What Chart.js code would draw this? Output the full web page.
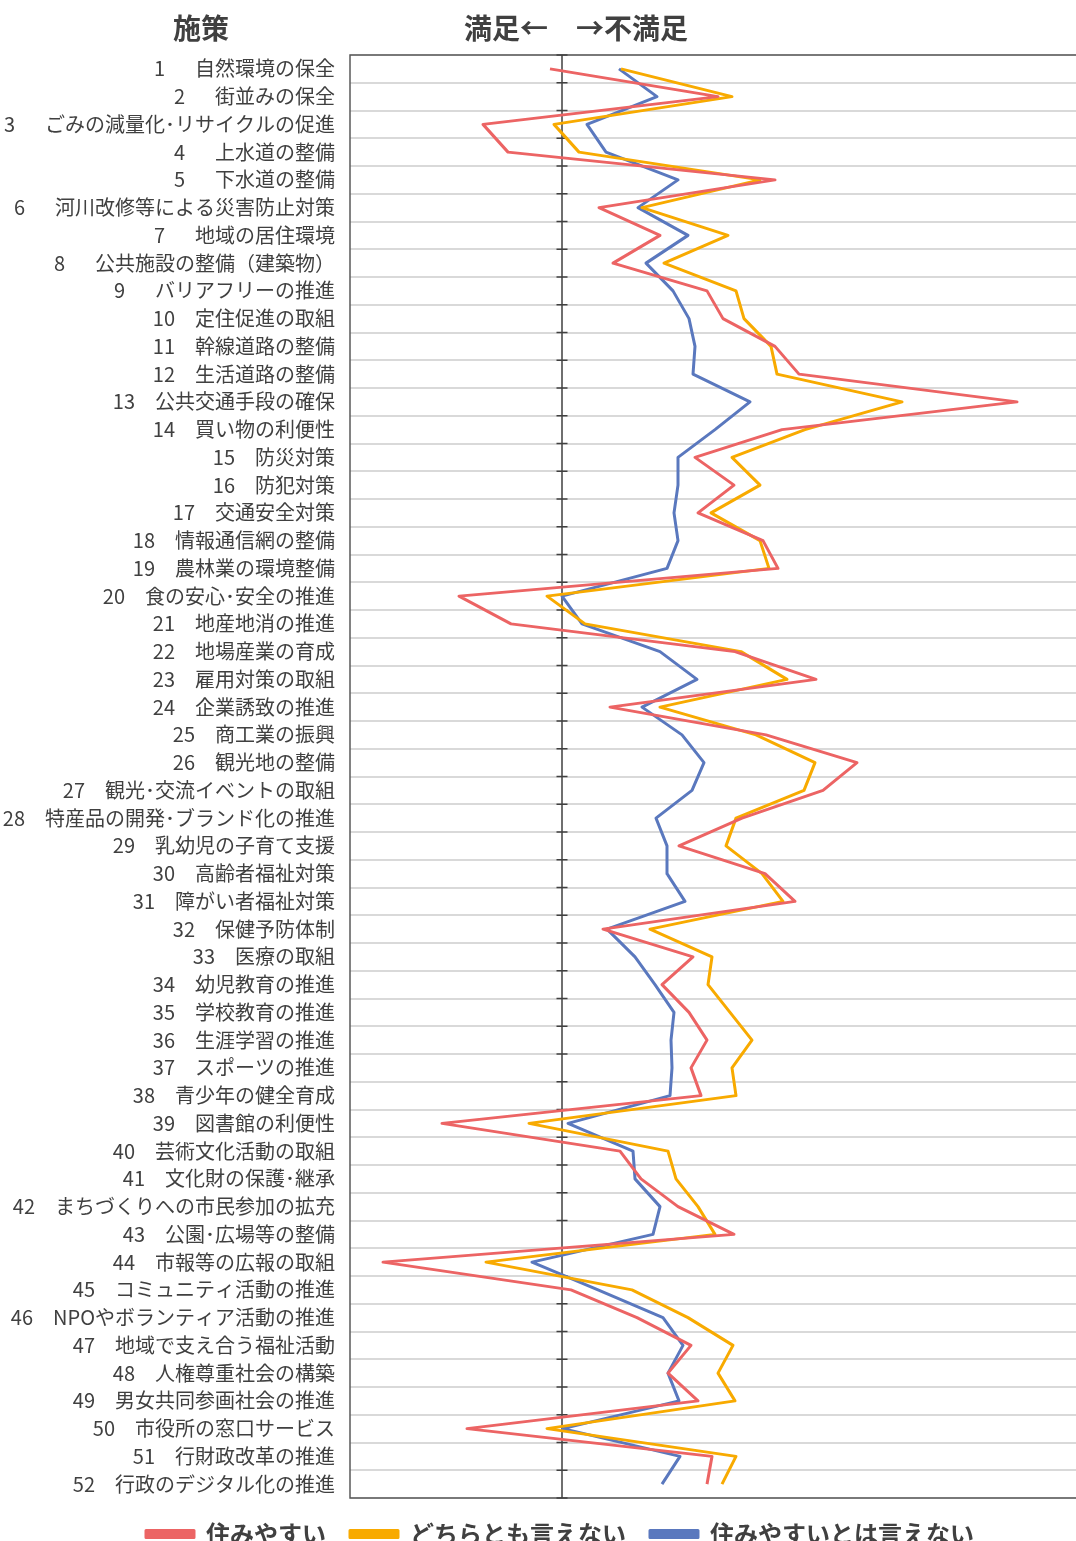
<!DOCTYPE html>
<html lang="ja">
<head>
<meta charset="utf-8">
<script src="https://cdn.jsdelivr.net/npm/chart.js@4.4.1/dist/chart.umd.min.js"></script>
<style>
    html, body { margin: 0; padding: 0; width: 1076px; height: 1541px; overflow: hidden; background: #fff; }
    #wrap { position: relative; width: 1120px; height: 1556px; }
    .head { position: absolute; top: 10px; font: bold 28px "Noto Sans CJK JP", sans-serif; color: #404040; line-height: 34px; white-space: nowrap; }
</style>
</head>
<body>
<div id="wrap">
    <div class="head" style="left:173px;">施策</div>
    <div class="head" style="left:464px;">満足←　→不満足</div>
    <canvas id="lineChart"></canvas>
</div>
<script>
// 施策名 (上から順)
const policies = [
    '自然環境の保全', '街並みの保全', 'ごみの減量化･リサイクルの促進', '上水道の整備', '下水道の整備',
    '河川改修等による災害防止対策', '地域の居住環境', '公共施設の整備（建築物）', 'バリアフリーの推進', '定住促進の取組',
    '幹線道路の整備', '生活道路の整備', '公共交通手段の確保', '買い物の利便性', '防災対策',
    '防犯対策', '交通安全対策', '情報通信網の整備', '農林業の環境整備', '食の安心･安全の推進',
    '地産地消の推進', '地場産業の育成', '雇用対策の取組', '企業誘致の推進', '商工業の振興',
    '観光地の整備', '観光･交流イベントの取組', '特産品の開発･ブランド化の推進', '乳幼児の子育て支援', '高齢者福祉対策',
    '障がい者福祉対策', '保健予防体制', '医療の取組', '幼児教育の推進', '学校教育の推進',
    '生涯学習の推進', 'スポーツの推進', '青少年の健全育成', '図書館の利便性', '芸術文化活動の取組',
    '文化財の保護･継承', 'まちづくりへの市民参加の拡充', '公園･広場等の整備', '市報等の広報の取組', 'コミュニティ活動の推進',
    'NPOやボランティア活動の推進', '地域で支え合う福祉活動', '人権尊重社会の構築', '男女共同参画社会の推進', '市役所の窓口サービス',
    '行財政改革の推進', '行政のデジタル化の推進'
];

// 住みやすい
const sumiyasui = [
    -0.12, 1.56, -0.79, -0.54, 2.13, 0.37, 0.98, 0.51, 1.45, 1.61,
    2.13, 2.37, 4.55, 2.20, 1.33, 1.72, 1.36, 2.01, 2.16, -1.03,
    -0.51, 1.73, 2.54, 0.48, 2.04, 2.95, 2.61, 1.80, 1.17, 2.03,
    2.33, 0.41, 1.31, 1.00, 1.27, 1.45, 1.29, 1.39, -1.20, 0.58,
    0.79, 1.16, 1.72, -1.79, 0.09, 0.75, 1.29, 1.06, 1.36, -0.95,
    1.50, 1.45
];

// どちらとも言えない
const dochiramo = [
    0.59, 1.70, -0.08, 0.17, 1.98, 0.80, 1.66, 1.02, 1.74, 1.82,
    2.09, 2.15, 3.40, 2.43, 1.70, 1.98, 1.49, 1.98, 2.07, -0.15,
    0.23, 1.79, 2.25, 0.98, 1.94, 2.53, 2.42, 1.74, 1.64, 2.00,
    2.21, 0.88, 1.50, 1.46, 1.68, 1.90, 1.70, 1.74, -0.33, 1.06,
    1.14, 1.36, 1.53, -0.76, 0.70, 1.26, 1.71, 1.56, 1.73, -0.15,
    1.74, 1.60
];

// 住みやすいとは言えない
const sumiyasukunai = [
    0.57, 0.95, 0.25, 0.44, 1.16, 0.76, 1.26, 0.84, 1.11, 1.27,
    1.33, 1.31, 1.88, 1.53, 1.16, 1.16, 1.12, 1.16, 1.05, 0.00,
    0.20, 0.98, 1.35, 0.80, 1.20, 1.42, 1.30, 0.94, 1.05, 1.05,
    1.23, 0.45, 0.73, 0.93, 1.12, 1.09, 1.10, 1.08, 0.06, 0.71,
    0.73, 0.98, 0.91, -0.30, 0.36, 1.01, 1.21, 1.06, 1.17, 0.01,
    1.18, 1.00
];

// 番号付きのラベル (1桁は少し間を空ける)
const labels = policies.map((name, i) => (i < 9 ? `${i + 1}\u3000\u2002${name}` : `${i + 1}\u3000${name}`));

// 枠線と中央の軸(0)を描く
const frameLines = {
    id: 'frameLines',
    beforeDatasetsDraw(chart) {
        const { ctx, chartArea: a, scales: { x } } = chart;
        ctx.save();
        ctx.strokeStyle = '#595959';
        ctx.lineWidth = 1.5;
        ctx.beginPath();
        ctx.moveTo(a.right, a.top);
        ctx.lineTo(a.left, a.top);
        ctx.lineTo(a.left, a.bottom);
        ctx.lineTo(a.right, a.bottom);
        ctx.stroke();

        const x0 = x.getPixelForValue(0);
        ctx.strokeStyle = '#404040';
        ctx.beginPath();
        ctx.moveTo(x0, a.top);
        ctx.lineTo(x0, a.bottom);
        const step = (a.bottom - a.top) / labels.length;
        for (let i = 0; i <= labels.length; i++) {
            const yy = a.top + step * i;
            ctx.moveTo(x0 - 5.5, yy);
            ctx.lineTo(x0 + 5.5, yy);
        }
        ctx.stroke();
        ctx.restore();
    }
};

const common = { pointRadius: 0, borderWidth: 3, tension: 0, fill: false, borderJoinStyle: 'round' };

new Chart(document.getElementById('lineChart'), {
    type: 'line',
    data: {
        labels: labels,
        datasets: [
            { label: '住みやすい', data: sumiyasui, borderColor: '#EC6464', backgroundColor: '#EC6464', ...common },
            { label: 'どちらとも言えない', data: dochiramo, borderColor: '#F8AA00', backgroundColor: '#F8AA00', ...common },
            { label: '住みやすいとは言えない', data: sumiyasukunai, borderColor: '#5A78BE', backgroundColor: '#5A78BE', ...common },
        ]
    },
    options: {
        indexAxis: 'y',
        responsive: true,
        maintainAspectRatio: false,
        animation: false,
        layout: { padding: { top: 55, left: 0, right: 0, bottom: 0 } },
        scales: {
            x: {
                display: false,
                min: -2.12,
                max: 5.58,
            },
            y: {
                offset: true,
                border: { display: false },
                grid: { offset: true, color: '#d9d9d9', lineWidth: 2, drawTicks: false },
                ticks: {
                    autoSkip: false,
                    padding: 15,
                    color: '#404040',
                    font: { family: '"Noto Sans CJK JP", sans-serif', size: 20 },
                },
                afterFit(scale) { scale.width = 350; },
            },
        },
        plugins: {
            legend: {
                position: 'bottom',
                labels: {
                    boxWidth: 48,
                    boxHeight: 7,
                    padding: 24,
                    color: '#404040',
                    font: { family: '"Noto Sans CJK JP", sans-serif', size: 24, weight: 'bold' },
                },
            },
            tooltip: { enabled: false },
        },
    },
    plugins: [frameLines],
});
</script>
</body>
</html>
